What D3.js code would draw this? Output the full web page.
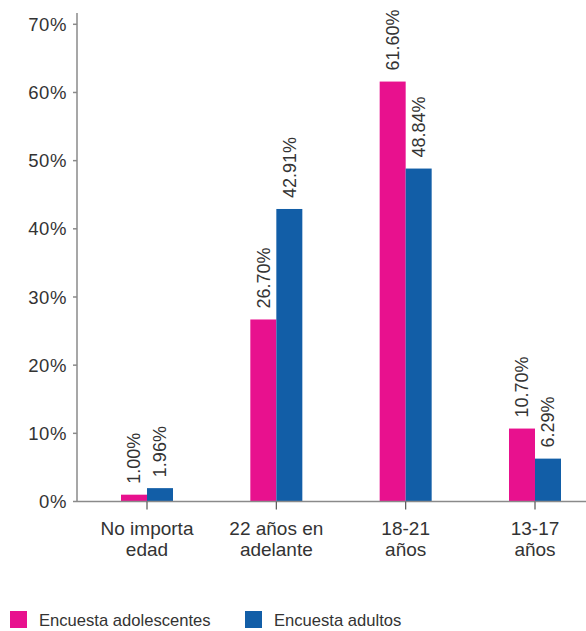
<!DOCTYPE html>
<html><head><meta charset="utf-8">
<script src="https://cdn.jsdelivr.net/npm/d3@7"></script>
<style>body{margin:0;background:#fff}svg{display:block}</style>
</head><body>
<svg id="c" width="586" height="631"></svg>
<script>
const categories = [["No importa","edad"],["22 años en","adelante"],["18-21","años"],["13-17","años"]];
const seriesNames = ["Encuesta adolescentes","Encuesta adultos"];
const adolescentes = [1.00, 26.70, 61.60, 10.70];
const adultos = [1.96, 42.91, 48.84, 6.29];
const yTicks = [0,10,20,30,40,50,60,70];
const colors = ["#E8118E","#125EA7"];

const svg = d3.select("#c");
const font = "'Liberation Sans', Arial, Helvetica, sans-serif";
const txt = "#333";
const axisColor = "#8a8a8a";

const y = d3.scaleLinear().domain([0,70]).range([501.5,24.3]);
const x = d3.scalePoint().domain(d3.range(categories.length)).range([147,535]);
const bw = 26;

// y axis
svg.append("line").attr("x1",77).attr("x2",77).attr("y1",13).attr("y2",y(0))
  .attr("stroke",axisColor).attr("stroke-width",1.5);
const yt = svg.append("g");
yTicks.forEach(t=>{
  yt.append("line").attr("x1",73).attr("x2",77).attr("y1",y(t)).attr("y2",y(t))
    .attr("stroke",axisColor).attr("stroke-width",1.5);
  yt.append("text").attr("x",67).attr("y",y(t)).attr("dy","0.36em")
    .attr("text-anchor","end").attr("font-family",font).attr("font-size",18.5)
    .attr("letter-spacing",0.6).attr("fill",txt).text(t+"%");
});

// bars
const series = [adolescentes, adultos];
series.forEach((vals,si)=>{
  const g = svg.append("g");
  vals.forEach((v,i)=>{
    const x0 = x(i) + (si===0 ? -bw : 0);
    g.append("rect").attr("x",x0).attr("width",bw)
      .attr("y",y(v)).attr("height",y(0)-y(v)).attr("fill",colors[si]);
    const cx = x0 + bw/2;
    const ty = y(v) - 11;
    g.append("text").attr("transform",`translate(${cx},${ty}) rotate(-90)`)
      .attr("dy","0.35em").attr("text-anchor","start")
      .attr("font-family",font).attr("font-size",18).attr("fill",txt)
      .text(v.toFixed(2)+"%");
  });
});

// x axis
svg.append("line").attr("x1",77).attr("x2",586).attr("y1",y(0)).attr("y2",y(0))
  .attr("stroke",axisColor).attr("stroke-width",1.5);
categories.forEach((c,i)=>{
  svg.append("line").attr("x1",x(i)).attr("x2",x(i)).attr("y1",y(0)).attr("y2",y(0)+8)
    .attr("stroke","#555").attr("stroke-width",1.2);
  const t = svg.append("text").attr("text-anchor","middle").attr("font-family",font)
    .attr("font-size",19).attr("fill",txt);
  c.forEach((line,li)=>{
    t.append("tspan").attr("x",x(i)).attr("y",535+li*21).text(line);
  });
});

// legend
const legX = [10,245];
seriesNames.forEach((n,i)=>{
  svg.append("rect").attr("x",legX[i]).attr("y",611).attr("width",17).attr("height",17).attr("fill",colors[i]);
  svg.append("text").attr("x",legX[i]+29).attr("y",626).attr("font-family",font)
    .attr("font-size",16.6).attr("fill",txt).text(n);
});
</script>
</body></html>
